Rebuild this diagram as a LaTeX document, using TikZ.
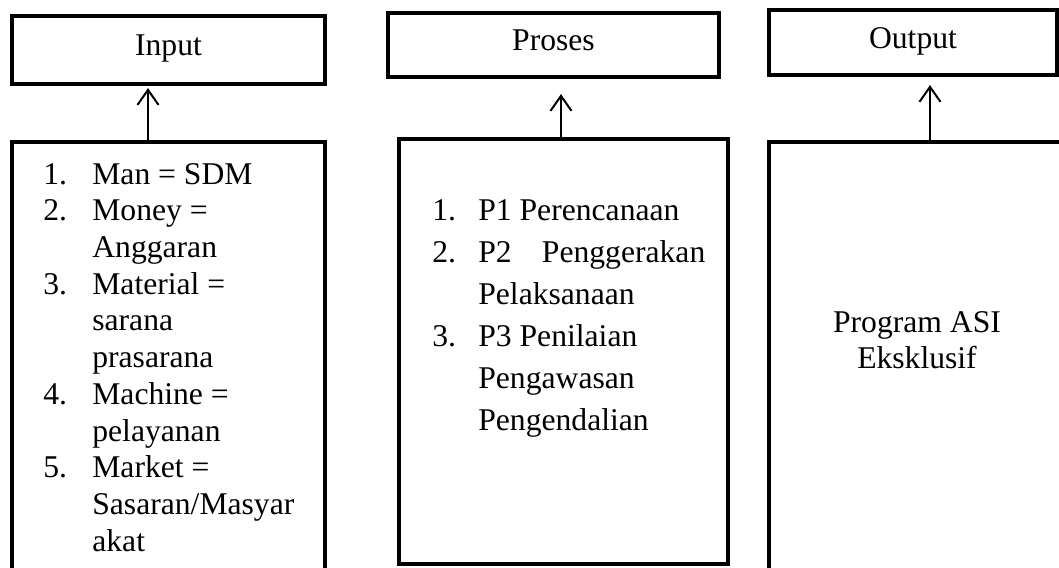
\documentclass[tikz,border=0pt]{standalone}
\usepackage{fontspec}
\setmainfont{Liberation Serif}
\usepackage{tikz}
\usetikzlibrary{arrows.meta, positioning, calc}

\begin{document}
\begin{tikzpicture}[
    titlebox/.style={rectangle, draw, line width=0.085cm, inner sep=0pt, text height=0.75em, text depth=0.1em},
    listbox/.style={rectangle, draw, line width=0.085cm, inner sep=0pt},
    items/.style={inner sep=0pt, anchor=base west},
    arr/.style={-{Straight Barb[length=0.3cm, width=0.42cm]}, line width=0.04cm},
    font=\fontsize{18}{20.9}\selectfont
]
\useasboundingbox (0, 0) rectangle (21.18, -11.34);
\clip (0, 0) rectangle (21.18, -11.34);

% Input column
\node[titlebox, minimum width=6.26cm, minimum height=1.36cm] (in_title) at (3.37, -1.00) {Input};
\node[listbox, minimum width=6.26cm, minimum height=9.16cm] (in_list) at (3.37, -7.42) {};
\node[items] (in_items) at (0.86, -3.68) {\begin{tabular}[t]{@{}p{0.98cm}@{}l@{}}
1. & Man = SDM\\
2. & Money =\\
   & Anggaran\\
3. & Material =\\
   & sarana\\
   & prasarana\\
4. & Machine =\\
   & pelayanan\\
5. & Market =\\
   & Sasaran/Masyar\\
   & akat
\end{tabular}};

% Proses column
\node[titlebox, minimum width=6.62cm, minimum height=1.28cm] (pr_title) at (11.07, -0.90) {Proses};
\node[listbox, minimum width=6.58cm, minimum height=8.50cm] (pr_list) at (11.27, -7.03) {};
\node[items, font=\fontsize{18}{24.0}\selectfont] (pr_items) at (8.64, -4.40) {\begin{tabular}[t]{@{}p{0.92cm}@{}l@{}}
1. & P1 Perencanaan\\
2. & \makebox[4.54cm][s]{P2 Penggerakan}\\
   & Pelaksanaan\\
3. & P3 Penilaian\\
   & Pengawasan\\
   & Pengendalian
\end{tabular}};

% Output column
\node[titlebox, minimum width=5.76cm, minimum height=1.30cm] (out_title) at (18.26, -0.85) {Output};
\node[listbox, minimum width=6.22cm, minimum height=9.16cm] (out_list) at (18.49, -7.42) {};
\node[inner sep=0pt, anchor=base, font=\fontsize{18}{20.5}\selectfont] (out_items) at (18.34, -6.64) {\begin{tabular}[t]{@{}c@{}}
Program ASI\\
Eksklusif
\end{tabular}};

% Arrows
\draw[arr, shorten >=0.04cm] ([xshift=-0.41cm]in_list.north) -- ([xshift=-0.41cm]in_list.north |- in_title.south);
\draw[arr, shorten >=0.30cm] ([xshift=-0.05cm]pr_list.north) -- ([xshift=-0.05cm]pr_list.north |- pr_title.south);
\draw[arr, shorten >=0.16cm] ([xshift=0.11cm]out_list.north) -- ([xshift=0.11cm]out_list.north |- out_title.south);
\end{tikzpicture}
\end{document}
